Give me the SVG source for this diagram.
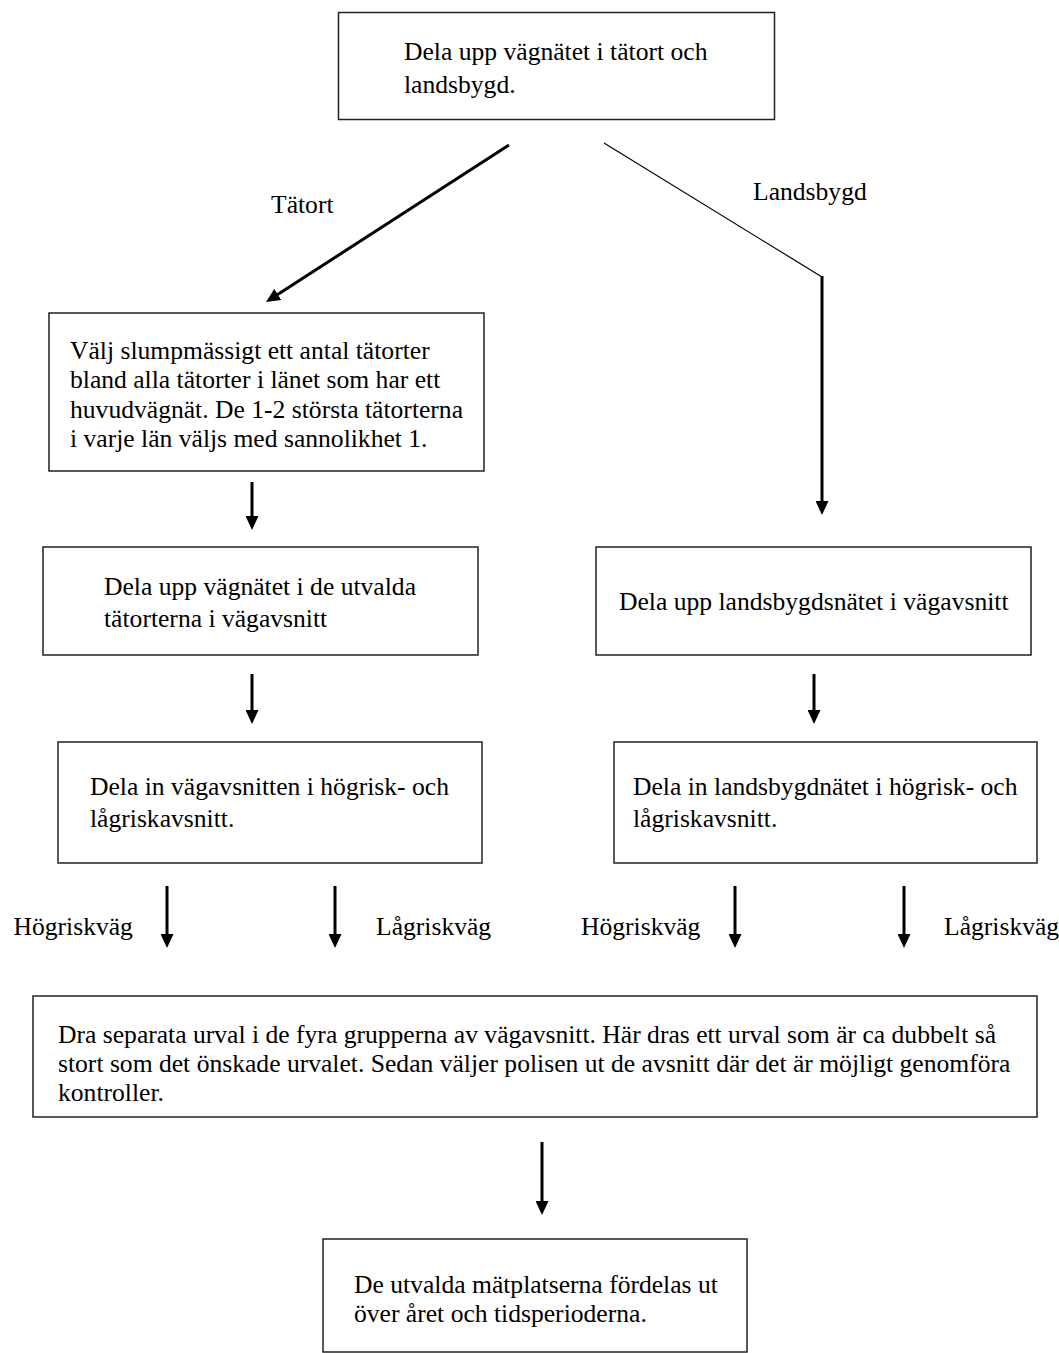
<svg xmlns="http://www.w3.org/2000/svg" width="1059" height="1353" viewBox="0 0 1059 1353">
<style>
.box{fill:#fff;stroke:#222;stroke-width:1.5}
.t{font-family:"Liberation Serif","Times New Roman",serif;font-size:25.6px;fill:#000}
.c{stroke:#000;stroke-width:3;fill:none}
.thin{stroke:#000;stroke-width:1.2;fill:none}
</style>
<defs>
<marker id="ah" viewBox="0 0 14 13" markerWidth="14" markerHeight="13" refX="2" refY="6.5" orient="auto" markerUnits="userSpaceOnUse">
<path d="M0,0 L14,6.5 L0,13 z" fill="#000"/>
</marker>
</defs>
<rect width="1059" height="1353" fill="#fff"/>
<g id="connectors">
<line class="c" x1="509" y1="145" x2="276.1" y2="295.5" marker-end="url(#ah)"/>
<line class="thin" x1="604" y1="143" x2="822" y2="277"/>
<line class="c" x1="822" y1="276" x2="822" y2="503" marker-end="url(#ah)"/>
<line class="c" x1="252" y1="482" x2="252" y2="518" marker-end="url(#ah)"/>
<line class="c" x1="252" y1="674" x2="252" y2="712" marker-end="url(#ah)"/>
<line class="c" x1="814" y1="674" x2="814" y2="712" marker-end="url(#ah)"/>
<line class="c" x1="167" y1="886" x2="167" y2="936" marker-end="url(#ah)"/>
<line class="c" x1="335" y1="886" x2="335" y2="936" marker-end="url(#ah)"/>
<line class="c" x1="735" y1="886" x2="735" y2="936" marker-end="url(#ah)"/>
<line class="c" x1="904" y1="886" x2="904" y2="936" marker-end="url(#ah)"/>
<line class="c" x1="542" y1="1142" x2="542" y2="1203" marker-end="url(#ah)"/>
<text class="t" x="271" y="213">Tätort</text>
<text class="t" x="753" y="200">Landsbygd</text>
<text class="t" x="13.5" y="935">Högriskväg</text>
<text class="t" x="376" y="935">Lågriskväg</text>
<text class="t" x="581" y="935">Högriskväg</text>
<text class="t" x="944" y="935">Lågriskväg</text>
</g>
<g id="n-split">
<rect class="box" x="338.5" y="12.5" width="436" height="107"/>
<text class="t" x="404" y="60">Dela upp vägnätet i tätort och</text>
<text class="t" x="404" y="93">landsbygd.</text>
</g>
<g id="n-select">
<rect class="box" x="49" y="313" width="435" height="158"/>
<text class="t" x="70" y="359">Välj slumpmässigt ett antal tätorter</text>
<text class="t" x="70" y="388">bland alla tätorter i länet som har ett</text>
<text class="t" x="70" y="418">huvudvägnät. De 1-2 största tätorterna</text>
<text class="t" x="70" y="447">i varje län väljs med sannolikhet 1.</text>
</g>
<g id="n-urban-split">
<rect class="box" x="43" y="547" width="435" height="108"/>
<text class="t" x="104" y="595">Dela upp vägnätet i de utvalda</text>
<text class="t" x="104" y="627">tätorterna i vägavsnitt</text>
</g>
<g id="n-rural-split">
<rect class="box" x="596" y="547" width="435" height="108"/>
<text class="t" x="619" y="610">Dela upp landsbygdsnätet i vägavsnitt</text>
</g>
<g id="n-urban-risk">
<rect class="box" x="58" y="742" width="424" height="121"/>
<text class="t" x="90" y="795">Dela in vägavsnitten i högrisk- och</text>
<text class="t" x="90" y="827">lågriskavsnitt.</text>
</g>
<g id="n-rural-risk">
<rect class="box" x="614" y="742" width="423" height="121"/>
<text class="t" x="633" y="795">Dela in landsbygdnätet i högrisk- och</text>
<text class="t" x="633" y="827">lågriskavsnitt.</text>
</g>
<g id="n-sample">
<rect class="box" x="33" y="996" width="1004" height="121"/>
<text class="t" x="58" y="1043">Dra separata urval i de fyra grupperna av vägavsnitt. Här dras ett urval som är ca dubbelt så</text>
<text class="t" x="58" y="1072">stort som det önskade urvalet. Sedan väljer polisen ut de avsnitt där det är möjligt genomföra</text>
<text class="t" x="58" y="1101">kontroller.</text>
</g>
<g id="n-distribute">
<rect class="box" x="323" y="1239" width="424" height="113"/>
<text class="t" x="354" y="1293">De utvalda mätplatserna fördelas ut</text>
<text class="t" x="354" y="1322">över året och tidsperioderna.</text>
</g>
</svg>
